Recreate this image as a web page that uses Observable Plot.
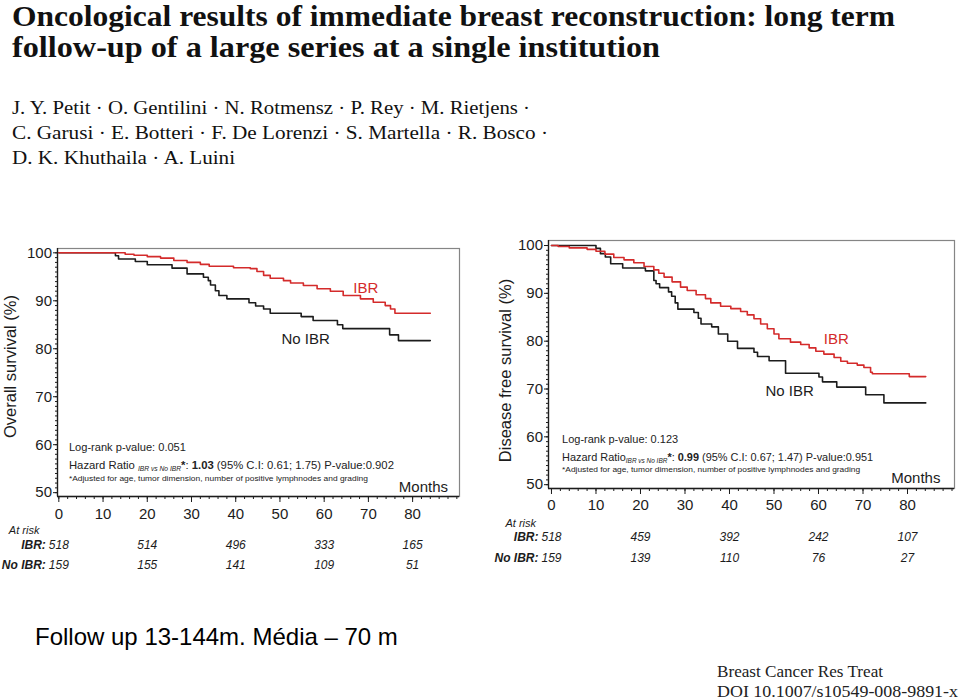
<!DOCTYPE html>
<html>
<head>
<meta charset="utf-8">
<script src="https://cdn.jsdelivr.net/npm/d3@7"></script>
<script src="https://cdn.jsdelivr.net/npm/@observablehq/plot@0.6"></script>
<style>
  html, body { margin: 0; padding: 0; background: #fff; }
  #page { position: relative; width: 959px; height: 700px; overflow: hidden; background: #fff; }
  #head { position: absolute; left: 0; top: 0; }
  #foot { position: absolute; left: 0; top: 600px; }
  #os { position: absolute; left: 0; top: 230px; }
  #dfs { position: absolute; left: 480px; top: 222px; }
</style>
</head>
<body>
<div id="page">
  <svg id="head" width="959" height="180" font-family="'Liberation Serif', 'Times New Roman', serif" fill="#111">
    <text x="12" y="26" font-size="29" font-weight="bold" textLength="883" lengthAdjust="spacingAndGlyphs">Oncological results of immediate breast reconstruction: long term</text>
    <text x="12" y="57" font-size="29" font-weight="bold" textLength="648" lengthAdjust="spacingAndGlyphs">follow-up of a large series at a single institution</text>
    <text x="12" y="114" font-size="19" textLength="518" lengthAdjust="spacingAndGlyphs">J. Y. Petit · O. Gentilini · N. Rotmensz · P. Rey · M. Rietjens ·</text>
    <text x="12" y="139" font-size="19" textLength="536" lengthAdjust="spacingAndGlyphs">C. Garusi · E. Botteri · F. De Lorenzi · S. Martella · R. Bosco ·</text>
    <text x="12" y="164" font-size="19" textLength="223" lengthAdjust="spacingAndGlyphs">D. K. Khuthaila · A. Luini</text>
  </svg>
  <div id="os"></div>
  <div id="dfs"></div>
  <svg id="foot" width="959" height="100">
    <text x="35" y="45" font-family="'Liberation Sans', Arial, sans-serif" font-size="24" fill="#000">Follow up 13-144m. Média – 70 m</text>
    <text x="717" y="77" font-family="'Liberation Serif', 'Times New Roman', serif" font-size="17" fill="#222" textLength="166" lengthAdjust="spacingAndGlyphs">Breast Cancer Res Treat</text>
    <text x="717" y="97" font-family="'Liberation Serif', 'Times New Roman', serif" font-size="17" fill="#222" textLength="241" lengthAdjust="spacingAndGlyphs">DOI 10.1007/s10549-008-9891-x</text>
  </svg>
</div>
<script>
// ---------- data ----------
const xTicks = [0, 10, 20, 30, 40, 50, 60, 70, 80];
const yTicks = [50, 60, 70, 80, 90, 100];
const riskMonths = [0, 20, 40, 60, 80];

// Overall survival
const osIbrMonths = [0, 15, 17, 20, 23, 26, 29, 32, 34, 39.5, 43.3, 44.8, 46.3, 47.8, 50.8, 52.4, 55.3, 58.4, 61.4, 64.3, 68.2, 71.1, 73.8, 75, 76, 84];
const osIbrSurv   = [100, 99.7, 99.5, 99.2, 98.9, 98.4, 98.0, 97.6, 97.2, 96.9, 96.7, 96.1, 95.3, 94.7, 94.2, 93.7, 93.2, 92.5, 92.0, 91.1, 90.4, 89.7, 89.0, 88.3, 87.4, 87.4];
const osNoMonths  = [0, 12.8, 13.5, 17.3, 20, 25.6, 29, 32.7, 33.8, 34.3, 35.4, 36.2, 38, 43, 44.5, 46.3, 47.8, 54.8, 57.5, 63, 64.2, 74.8, 76.8, 84];
const osNoSurv    = [100, 99.4, 98.7, 98.2, 97.5, 96.8, 95.6, 94.9, 94.2, 93.3, 92.1, 91.1, 90.4, 89.6, 88.9, 88.3, 87.4, 86.7, 85.9, 85.0, 84.2, 82.9, 81.7, 81.7];
const osRiskIbr   = [518, 514, 496, 333, 165];
const osRiskNo    = [159, 155, 141, 109, 51];

// Disease free survival
const dfsIbrMonths = [0, 1.5, 4, 8, 10, 12, 14, 16.3, 18.5, 20.8, 23, 24.1, 25.3, 27.1, 29, 30.5, 32.5, 34.6, 35.8, 38, 40.3, 42.5, 44, 45.5, 47, 48.5, 50, 51.1, 53.7, 56, 57.9, 59.4, 61.2, 63.5, 65, 66.5, 68.7, 70.2, 71.7, 72.1, 80.4, 84.1];
const dfsIbrSurv   = [100, 99.8, 99.5, 99.2, 98.8, 98.2, 97.5, 97.0, 96.4, 95.6, 94.9, 94.2, 93.4, 92.4, 91.3, 90.6, 89.7, 88.9, 88.0, 87.3, 86.8, 86.2, 85.5, 84.7, 83.6, 82.6, 81.5, 80.5, 79.8, 79.3, 78.6, 77.9, 77.3, 76.6, 75.8, 75.4, 75.0, 74.5, 73.5, 73.2, 72.6, 72.6];
const dfsNoMonths  = [0, 10.0, 11.0, 12.1, 13.3, 16.0, 21.1, 23.0, 23.5, 24.3, 26.3, 27.0, 27.8, 28.4, 32.0, 33.0, 33.6, 36.0, 37.5, 39.6, 41.8, 45.5, 46.3, 48.9, 52.6, 60.1, 60.9, 64.1, 70.6, 74.7, 84.1];
const dfsNoSurv    = [100, 99.4, 98.3, 97.6, 96.2, 95.3, 94.7, 92.7, 92.0, 91.2, 90.3, 89.4, 88.0, 86.7, 86.0, 84.8, 83.6, 83.0, 81.5, 80.0, 78.5, 77.7, 76.8, 75.9, 73.3, 72.5, 71.5, 70.4, 68.8, 67.1, 67.1];
const dfsRiskIbr   = [518, 459, 392, 242, 107];
const dfsRiskNo    = [159, 139, 110, 76, 27];

const RED = "#d42b2b";
const INK = "#1c1c1c";

function survChart(cfg) {
  const ibr = cfg.ibrT.map((t, i) => ({t, s: cfg.ibrS[i]}));
  const no = cfg.noT.map((t, i) => ({t, s: cfg.noS[i]}));
  const rIbr = riskMonths.map((t, i) => ({t, n: cfg.riskIbr[i]}));
  const rNo = riskMonths.map((t, i) => ({t, n: cfg.riskNo[i]}));
  const chart = Plot.plot({
    width: cfg.width, height: 360,
    marginLeft: cfg.ml, marginRight: cfg.mr, marginTop: 18, marginBottom: 94,
    style: {background: "transparent", fontFamily: "'Liberation Sans', Arial, sans-serif", color: INK, overflow: "visible"},
    x: {domain: cfg.xDomain, label: null},
    y: {domain: cfg.yDomain, label: null},
    marks: [
      Plot.frame({stroke: "#858585", strokeWidth: 1.2}),
      Plot.ruleX([cfg.xDomain[0]], {stroke: INK, strokeWidth: 1.3}),
      Plot.ruleY([cfg.yDomain[0]], {stroke: INK, strokeWidth: 1.3}),
      Plot.axisX({ticks: d3.range(0, 91, 2), tickSize: 3, tickFormat: () => "", label: null, stroke: INK}),
      Plot.axisX({ticks: xTicks, tickSize: 6, tickPadding: cfg.xPad, fontSize: 15, label: null, stroke: INK}),
      Plot.axisY({ticks: d3.range(50, 101, 1), tickSize: 2, tickFormat: () => "", label: null, stroke: INK}),
      Plot.axisY({ticks: yTicks, tickSize: 4, tickPadding: 1.5, fontSize: 15, label: null, stroke: INK}),
      Plot.line(no, {x: "t", y: "s", curve: "step-after", stroke: INK, strokeWidth: 1.6}),
      Plot.line(ibr, {x: "t", y: "s", curve: "step-after", stroke: RED, strokeWidth: 1.6}),
      Plot.text([cfg.yLabel], {text: d => d, frameAnchor: "left", textAnchor: "middle", lineAnchor: "middle", rotate: -90, dx: cfg.yLabelDx, dy: cfg.yLabelDy, fontSize: 16.5}),
      Plot.text([{t: cfg.ibrLab[0], s: cfg.ibrLab[1], l: "IBR"}], {x: "t", y: "s", text: "l", fill: RED, fontSize: 15}),
      Plot.text([{t: cfg.noLab[0], s: cfg.noLab[1], l: "No IBR"}], {x: "t", y: "s", text: "l", fill: INK, fontSize: 15}),
      Plot.text([{t: cfg.monthsLab[0], s: cfg.monthsLab[1], l: "Months"}], {x: "t", y: "s", text: "l", textAnchor: "end", fill: INK, fontSize: 15}),
      // at-risk table
      Plot.text([{t: 0, l: "At risk"}], {x: "t", text: "l", frameAnchor: "bottom", lineAnchor: "middle", dx: cfg.atRiskDx, dy: cfg.atRiskDy, textAnchor: "start", fontStyle: "italic", fontSize: 11}),
      Plot.text([{t: 0, l: "IBR:"}], {x: "t", text: "l", frameAnchor: "bottom", lineAnchor: "middle", dx: cfg.rowDx, dy: cfg.rowIbrDy, textAnchor: "end", fontStyle: "italic", fontWeight: "bold", fontSize: 12}),
      Plot.text([{t: 0, l: "No IBR:"}], {x: "t", text: "l", frameAnchor: "bottom", lineAnchor: "middle", dx: cfg.rowDx, dy: cfg.rowNoDy, textAnchor: "end", fontStyle: "italic", fontWeight: "bold", fontSize: 12}),
      Plot.text(rIbr, {x: "t", text: "n", frameAnchor: "bottom", lineAnchor: "middle", textAnchor: "middle", dy: cfg.rowIbrDy, fontStyle: "italic", fontSize: 12}),
      Plot.text(rNo, {x: "t", text: "n", frameAnchor: "bottom", lineAnchor: "middle", textAnchor: "middle", dy: cfg.rowNoDy, fontStyle: "italic", fontSize: 12})
    ]
  });

  // statistics annotations, positioned through the plot's scales
  const X = chart.scale("x"), Y = chart.scale("y");
  const svg = d3.select(chart.tagName.toLowerCase() === "svg" ? chart : chart.querySelector("svg"));
  const g = svg.append("g").attr("font-family", "'Liberation Sans', Arial, sans-serif")
    .attr("fill", "#222").attr("text-anchor", "start");
  const x0 = X.apply(cfg.noteX);
  g.append("text").attr("x", x0).attr("y", Y.apply(cfg.noteY[0]) + 4)
    .attr("font-size", 11).attr("textLength", cfg.logLen).attr("lengthAdjust", "spacingAndGlyphs")
    .text("Log-rank p-value: " + cfg.logrank);
  const hz = g.append("text").attr("x", x0).attr("y", Y.apply(cfg.noteY[1]) + 4)
    .attr("font-size", 11).attr("textLength", cfg.hzLen).attr("lengthAdjust", "spacingAndGlyphs");
  hz.append("tspan").text(cfg.hzGap ? "Hazard Ratio " : "Hazard Ratio");
  hz.append("tspan").attr("font-size", 6.5).attr("font-style", "italic").attr("dy", 1.5).text("IBR vs No IBR");
  hz.append("tspan").attr("dy", -1.5).attr("font-weight", "bold").text("*");
  hz.append("tspan").text(": ");
  hz.append("tspan").attr("font-weight", "bold").text(cfg.hr);
  hz.append("tspan").text(" (95% C.I: " + cfg.ci + ") P-value:" + cfg.pval);
  g.append("text").attr("x", x0).attr("y", Y.apply(cfg.noteY[2]) + 3)
    .attr("font-size", 7.6).attr("textLength", cfg.adjLen).attr("lengthAdjust", "spacingAndGlyphs")
    .text("*Adjusted for age, tumor dimension, number of positive lymphnodes and grading");
  return chart;
}

document.getElementById("os").appendChild(survChart({
  width: 475, ml: 57, mr: 16, xPad: 6,
  xDomain: [-0.3, 90.6], yDomain: [49.2, 100.9],
  ibrT: osIbrMonths, ibrS: osIbrSurv, noT: osNoMonths, noS: osNoSurv,
  riskIbr: osRiskIbr, riskNo: osRiskNo,
  yLabel: "Overall survival (%)", yLabelDx: -47, yLabelDy: -6,
  ibrLab: [69.4, 92.6], noLab: [55.8, 81.9], monthsLab: [88.0, 51.2],
  atRiskDx: -50, atRiskDy: 34, rowDx: -13, rowIbrDy: 49, rowNoDy: 69,
  noteX: 2.4, noteY: [59.5, 55.6, 53.0],
  logrank: "0.051", hr: "1.03", ci: "0.61; 1.75", pval: "0.902", hzGap: true,
  logLen: 117, hzLen: 325, adjLen: 299
}));

document.getElementById("dfs").appendChild(survChart({
  width: 479, ml: 68, mr: 5, xPad: 5,
  xDomain: [-0.67, 90.56], yDomain: [49.2, 101.05],
  ibrT: dfsIbrMonths, ibrS: dfsIbrSurv, noT: dfsNoMonths, noS: dfsNoSurv,
  riskIbr: dfsRiskIbr, riskNo: dfsRiskNo,
  yLabel: "Disease free survival (%)", yLabelDx: -43, yLabelDy: 6,
  ibrLab: [64.0, 80.5], noLab: [53.5, 69.5], monthsLab: [87.4, 51.3],
  atRiskDx: -46, atRiskDy: 35, rowDx: -13, rowIbrDy: 49, rowNoDy: 70,
  noteX: 2.5, noteY: [59.4, 55.6, 53.1],
  logrank: "0.123", hr: "0.99", ci: "0.67; 1.47", pval: "0.951", hzGap: false,
  logLen: 116, hzLen: 311, adjLen: 298
}));
</script>
</body>
</html>
